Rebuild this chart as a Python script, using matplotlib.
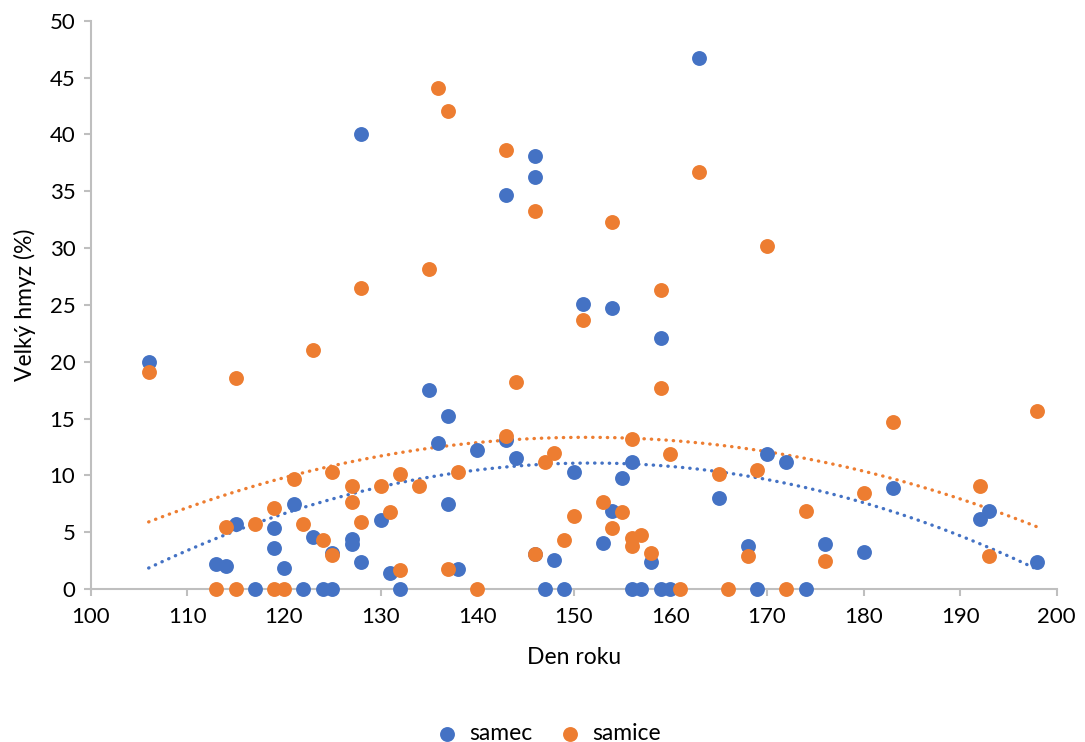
import numpy as np
import matplotlib.pyplot as plt

# ========================================
# data
# ========================================
samec_den = [106, 113, 114, 115, 117, 119, 119, 120, 121, 122, 123, 124, 125, 125,
             127, 127, 128, 128, 130, 131, 132, 135, 136, 137, 137, 138, 140, 143,
             143, 144, 146, 146, 146, 147, 148, 149, 150, 151, 153, 154, 154, 155,
             156, 156, 157, 158, 159, 159, 160, 163, 165, 168, 169, 170, 172, 174,
             176, 180, 183, 192, 193, 198]
samec_hmyz = [20.0, 2.2, 2.0, 5.7, 0, 5.4, 3.6, 1.9, 7.5, 0, 4.6, 0, 0, 3.2,
              4.4, 4.0, 40.0, 2.4, 6.1, 1.4, 0, 17.5, 12.9, 15.2, 7.5, 1.8, 12.2, 34.7,
              13.1, 11.5, 38.1, 36.3, 3.1, 0, 2.6, 0, 10.3, 25.1, 4.1, 24.7, 6.9, 9.8,
              11.2, 0, 0, 2.4, 22.1, 0, 0, 46.7, 8.0, 3.8, 0, 11.9, 11.2, 0,
              4.0, 3.3, 8.9, 6.2, 6.9, 2.4]

samice_den = [106, 113, 114, 115, 115, 117, 119, 119, 120, 121, 122, 123, 124, 125,
              125, 127, 127, 128, 128, 130, 131, 132, 132, 134, 135, 136, 137, 137,
              138, 140, 143, 143, 144, 146, 146, 147, 148, 149, 150, 151, 153, 154,
              154, 155, 156, 156, 156, 157, 158, 159, 159, 160, 161, 163, 165, 166,
              168, 169, 170, 172, 174, 176, 180, 183, 192, 193, 198]
samice_hmyz = [19.1, 0, 5.5, 18.6, 0, 5.7, 7.1, 0, 0, 9.7, 5.7, 21.0, 4.3, 10.3,
               3.0, 9.1, 7.7, 26.5, 5.9, 9.1, 6.8, 10.1, 1.7, 9.1, 28.2, 44.1, 42.1, 1.8,
               10.3, 0, 38.6, 13.5, 18.2, 33.3, 3.1, 11.2, 12.0, 4.3, 6.4, 23.7, 7.7, 32.3,
               5.4, 6.8, 13.2, 4.5, 3.8, 4.8, 3.2, 26.3, 17.7, 11.9, 0, 36.7, 10.1, 0,
               2.9, 10.5, 30.2, 0, 6.9, 2.5, 8.5, 14.7, 9.1, 2.9, 15.7]

blue = "#4472C4"
orange = "#ED7D31"
grey = "#BFBFBF"

plt.rcParams["font.family"] = ["Lato", "DejaVu Sans"]

fig = plt.figure(figsize=(10.85, 7.42), dpi=100)
ax = fig.add_axes([0.0836, 0.206, 0.8904, 0.766])

# polynomial (2nd order) trendlines like Excel
for den, hmyz, c in [(samec_den, samec_hmyz, blue), (samice_den, samice_hmyz, orange)]:
    koef = np.polyfit(den, hmyz, 2)
    xx = np.linspace(min(den), max(den), 200)
    ax.plot(xx, np.polyval(koef, xx), color=c, lw=2.4,
            linestyle=(0, (0.1, 2.1)), dash_capstyle="round", zorder=2)

ax.scatter(samec_den, samec_hmyz, s=115, color=blue, label="samec",
           clip_on=False, zorder=3, linewidths=0)
ax.scatter(samice_den, samice_hmyz, s=115, color=orange, label="samice",
           clip_on=False, zorder=4, linewidths=0)

ax.set_xlim(100, 200)
ax.set_ylim(0, 50)
ax.set_xticks(np.arange(100, 201, 10))
ax.set_yticks(np.arange(0, 51, 5))

for s in ["top", "right"]:
    ax.spines[s].set_visible(False)
for s in ["left", "bottom"]:
    ax.spines[s].set_color(grey)
    ax.spines[s].set_linewidth(1.5)
ax.tick_params(axis="both", color=grey, width=1.5, length=5, labelsize=16,
               labelcolor="#000000")
ax.tick_params(axis="x", pad=8)
ax.tick_params(axis="y", pad=6)

ax.set_xlabel("Den roku", fontsize=16.5, labelpad=14)
ax.set_ylabel("Velký hmyz (%)", fontsize=16.5, labelpad=10)

fig.legend(loc="lower center", bbox_to_anchor=(0.5, -0.03), ncol=2, frameon=False,
           fontsize=16.5, handletextpad=0.0, columnspacing=0.6, markerscale=1.0)

fig.savefig("out.png", dpi=100)
